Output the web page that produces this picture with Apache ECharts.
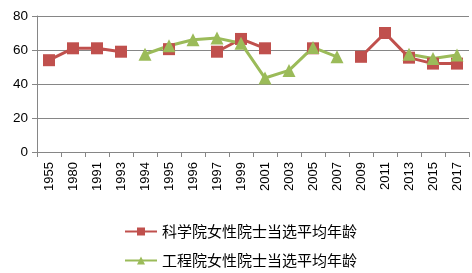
<!DOCTYPE html>
<html>
<head>
<meta charset="utf-8">
<script src="https://cdn.jsdelivr.net/npm/echarts@6/dist/echarts.min.js"></script>
<style>body{margin:0;background:#fff}</style>
</head>
<body>
<div id="main" style="width:472px;height:273px"></div>
<script>
var years = ['1955','1980','1991','1993','1994','1995','1996','1997','1999','2001','2003','2005','2007','2009','2011','2013','2015','2017'];
var kexueyuan = [54, 61, 61, 59, null, 60.5, null, 59, 66.5, 61, null, 61, null, 56, 70, 55.5, 52, 52];
var gongchengyuan = [null, null, null, null, 57.5, 62.5, 66, 67, 64, 43.5, 48, 61.5, 56, null, null, 57.5, 55, 57];
var seriesNames = ['科学院女性院士当选平均年龄', '工程院女性院士当选平均年龄'];

var chart = echarts.init(document.getElementById('main'));
var font = 'Liberation Sans, Noto Sans CJK SC, sans-serif';

// 两行图例，分开放
function makeLegend(name, top) {
    return {
        left: 119,
        top: top,
        itemWidth: 32,
        itemHeight: 10,
        textStyle: {fontSize: 15, color: '#000', fontFamily: 'Noto Sans CJK SC'},
        data: [name]
    };
}

chart.setOption({
    animation: false,
    textStyle: {fontFamily: font},
    grid: {left: 37, right: 3, top: 16, bottom: 121},
    legend: [makeLegend(seriesNames[0], 219), makeLegend(seriesNames[1], 248)],
    xAxis: {
        type: 'category',
        data: years,
        boundaryGap: true,
        axisLine: {lineStyle: {color: '#868686'}},
        axisTick: {show: true, length: 5, lineStyle: {color: '#868686'}},
        axisLabel: {rotate: 90, fontSize: 13, color: '#000', margin: 10, interval: 0}
    },
    yAxis: {
        type: 'value',
        min: 0, max: 80, interval: 20,
        axisLine: {show: true, lineStyle: {color: '#868686'}},
        axisTick: {show: true, length: 5, lineStyle: {color: '#868686'}},
        splitLine: {lineStyle: {color: '#868686'}},
        axisLabel: {fontSize: 13.5, color: '#000', margin: 9}
    },
    series: [
        {
            name: seriesNames[0],
            type: 'line',
            data: kexueyuan,
            symbol: 'rect',
            symbolSize: 12,
            connectNulls: false,
            itemStyle: {color: '#C0504D'},
            lineStyle: {width: 3, color: '#C0504D'}
        },
        {
            name: seriesNames[1],
            type: 'line',
            data: gongchengyuan,
            symbol: 'triangle',
            symbolSize: 13,
            connectNulls: false,
            itemStyle: {color: '#9BBB59'},
            lineStyle: {width: 3, color: '#9BBB59'}
        }
    ]
});
</script>
</body>
</html>
